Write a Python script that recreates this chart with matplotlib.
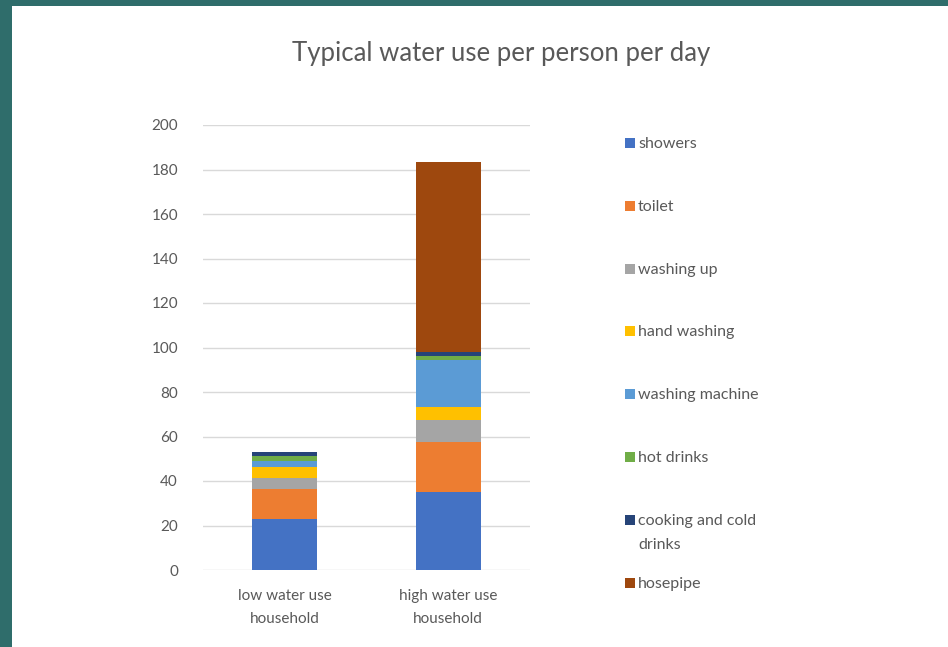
import matplotlib
matplotlib.use("Agg")
import matplotlib.pyplot as plt
from matplotlib.patches import Rectangle
import numpy as np

plt.rcParams['font.family'] = ['Lato', 'DejaVu Sans']

# data (litres per person per day)
households = ["low water use\nhousehold", "high water use\nhousehold"]
uses = ["showers", "toilet", "washing up", "hand washing", "washing machine",
        "hot drinks", "cooking and cold\ndrinks", "hosepipe"]
low_use = [23, 13.5, 4.7, 5.2, 2.8, 1.9, 2.0, 0]
high_use = [35, 22.5, 10, 5.7, 21, 2.2, 1.8, 85]
colors = ["#4472C4", "#ED7D31", "#A5A5A5", "#FFC000", "#5B9BD5",
          "#70AD47", "#264478", "#9E480E"]
yticks = [0, 20, 40, 60, 80, 100, 120, 140, 160, 180, 200]

text_col = "#595959"

fig = plt.figure(figsize=(9.48, 6.47), dpi=100)
fig.patch.set_facecolor("#2f6d6b")

# white slide panel
fig.add_artist(Rectangle((12 / 948, 0), 1, 1 - 6 / 647, transform=fig.transFigure,
                         facecolor="white", edgecolor="none", zorder=0))

ax = fig.add_axes([203 / 948, 77 / 647, 327 / 948, 445 / 647])
ax.set_facecolor("none")

x = np.arange(len(households))
values = np.array([low_use, high_use])
bottom = np.zeros(len(households))
for i, use in enumerate(uses):
    ax.bar(x, values[:, i], bottom=bottom, width=0.4, color=colors[i],
           label=use, zorder=3)
    bottom += values[:, i]

ax.set_xlim(-0.5, 1.5)
ax.set_ylim(0, 200)
ax.set_yticks(yticks)
ax.set_xticks(x)
ax.set_xticklabels(households, linespacing=1.75, fontsize=11.5)
ax.grid(axis="y", color="#d9d9d9", linewidth=1, zorder=0)
for s in ax.spines.values():
    s.set_visible(False)
ax.tick_params(length=0, colors=text_col, labelsize=11)
ax.tick_params(axis="y", pad=18)
ax.tick_params(axis="x", pad=14)

fig.text(501 / 948, 1 - 53 / 647, "Typical water use per person per day",
         ha="center", va="center", fontsize=18.5, color=text_col)

# legend, drawn by hand so the wrapped entry keeps its swatch on the first line
for i, use in enumerate(uses):
    yy = 1 - (143 + i * 62.8) / 647
    fig.add_artist(Rectangle((625 / 948, yy - 5 / 647), 10 / 948, 10 / 647,
                             transform=fig.transFigure, facecolor=colors[i],
                             edgecolor="none"))
    fig.text(638 / 948, yy + 6 / 647, use, ha="left", va="top", fontsize=11.5,
             color=text_col, linespacing=1.9)

fig.savefig("out.png", dpi=100, facecolor=fig.get_facecolor())
